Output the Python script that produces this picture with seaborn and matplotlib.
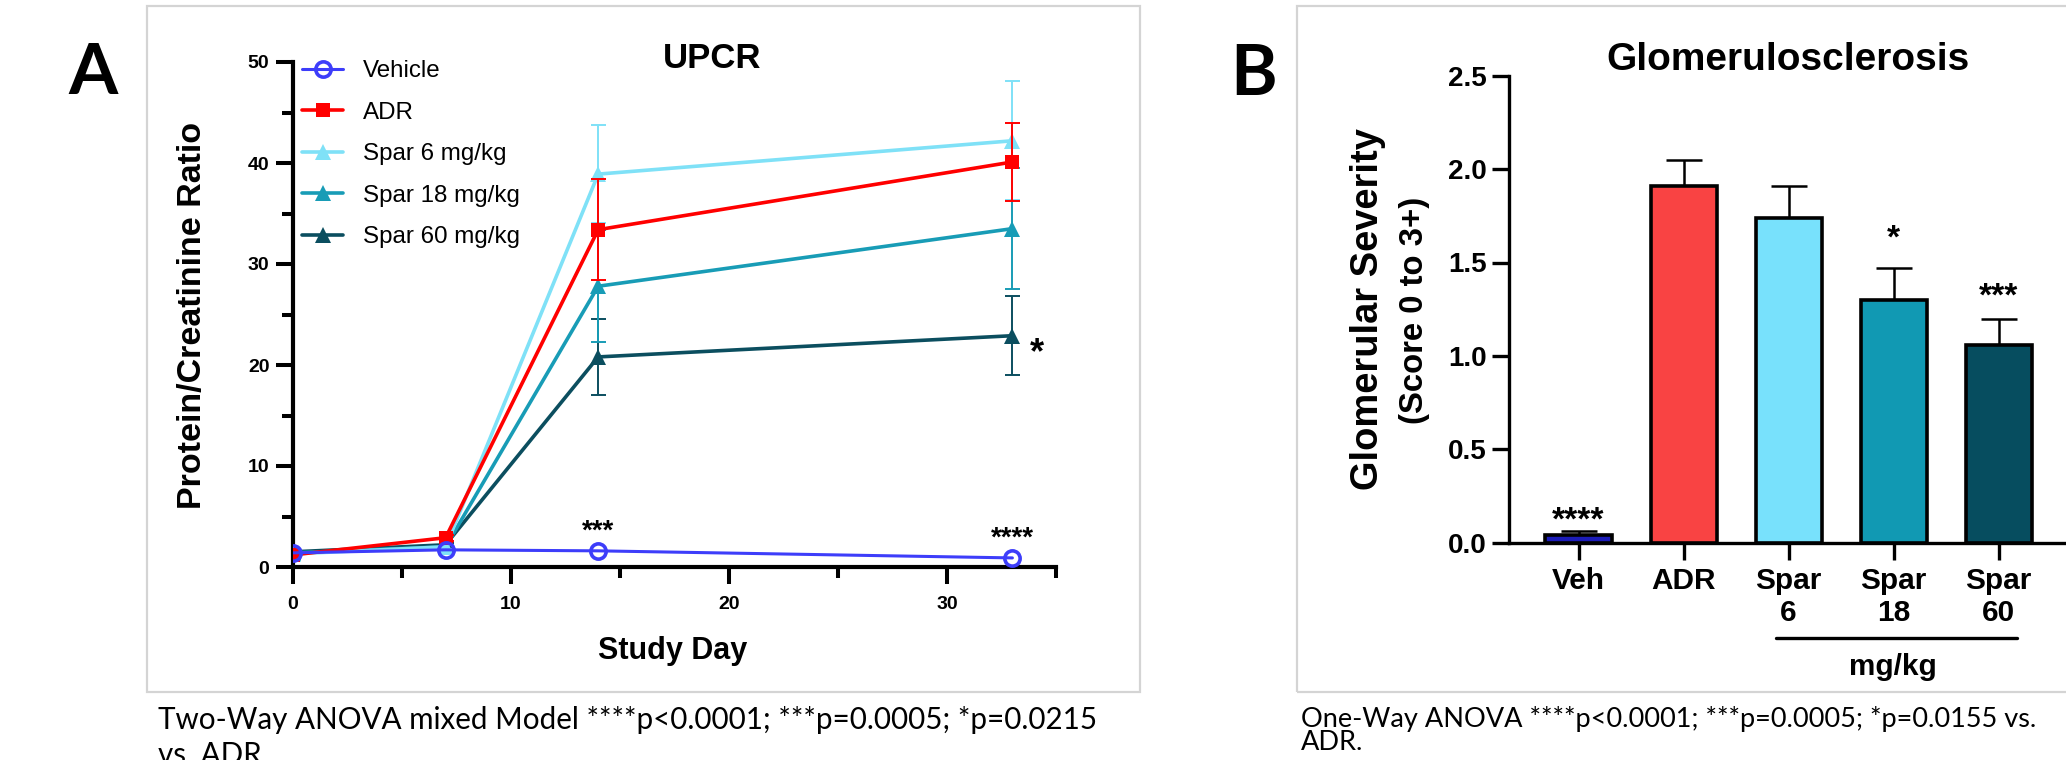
import matplotlib
matplotlib.use("Agg")
import matplotlib.pyplot as plt
import seaborn as sns
import numpy as np
import pandas as pd
from matplotlib.lines import Line2D
from matplotlib.patches import Rectangle

# ---------------- data ----------------
days = [0, 7, 14, 33]
series_names = ["Vehicle", "ADR", "Spar 6 mg/kg", "Spar 18 mg/kg", "Spar 60 mg/kg"]
vehicle = [1.4, 1.7, 1.6, 0.9]
vehicle_err = [0.0, 0.0, 0.0, 0.0]
adr = [1.2, 2.9, 33.4, 40.1]
adr_err = [0.2, 0.3, 5.0, 3.85]
spar6 = [1.3, 2.0, 38.9, 42.2]
spar6_err = [0.1, 0.2, 4.85, 5.9]
spar18 = [1.4, 2.0, 27.8, 33.5]
spar18_err = [0.1, 0.2, 5.55, 6.0]
spar60 = [1.5, 2.2, 20.8, 22.9]
spar60_err = [0.1, 0.2, 3.8, 3.9]

groups = ["Veh", "ADR", "Spar 6", "Spar 18", "Spar 60"]
group_ticklabels = ["Veh", "ADR", "Spar\n6", "Spar\n18", "Spar\n60"]
severity = [0.04, 1.91, 1.74, 1.30, 1.06]
severity_err = [0.02, 0.14, 0.17, 0.17, 0.14]

upcr_stars = [(14, 2.8, "***"), (33, 2.1, "****")]
spar60_star = (33.8, 20.2, "*")
bar_stars = ["****", "", "", "*", "***"]
bar_star_y = [0.068, None, None, 1.578, 1.267]

caption_a = "Two-Way ANOVA mixed Model ****p<0.0001; ***p=0.0005; *p=0.0215"
caption_a2 = "vs. ADR"
caption_b = "One-Way ANOVA ****p<0.0001; ***p=0.0005; *p=0.0155 vs."
caption_b2 = "ADR."

# ---------------- styling ----------------
sns.set_theme(style="white")
plt.rcParams["font.family"] = ["Liberation Sans", "DejaVu Sans"]
plt.rcParams["text.color"] = "black"
plt.rcParams["axes.labelcolor"] = "black"
plt.rcParams["xtick.color"] = "black"
plt.rcParams["ytick.color"] = "black"

W, H = 2066, 760
fig = plt.figure(figsize=(W / 100, H / 100), dpi=100)
fig.patch.set_facecolor("white")


def fx(px):
    return px / W


def fy(py):
    return 1 - py / H


# panel frames
fig.add_artist(Rectangle((fx(147), fy(692)), fx(1140) - fx(147), fy(6) - fy(692),
                         transform=fig.transFigure, fill=False, edgecolor="#d4d4d4", lw=1.6))
fig.add_artist(Rectangle((fx(1297), fy(692)), fx(2080) - fx(1297), fy(6) - fy(692),
                         transform=fig.transFigure, fill=False, edgecolor="#d4d4d4", lw=1.6))

# ---------------- Panel A ----------------
axA = fig.add_axes([fx(293), fy(567), fx(1056) - fx(293), fy(62) - fy(567)])
axA.set_facecolor("none")

colors_a = ["#3d3dfa", "#ff0000", "#7fe1f7", "#189cb6", "#0b4e5f"]
vals = [vehicle, adr, spar6, spar18, spar60]
errs = [vehicle_err, adr_err, spar6_err, spar18_err, spar60_err]
markers = ["o", "s", "^", "^", "^"]
msizes = [11, 10.5, 11, 11, 11]
zorders = [7, 6, 5, 4, 3]
handles = []
for name, v, e, c, m, ms, z in zip(series_names, vals, errs, colors_a, markers, msizes, zorders):
    df = pd.DataFrame({"day": days, "val": v})
    mfc = "none" if m == "o" else c
    mew = 2.6 if m == "o" else 0
    lw = 2.2 if m == "o" else 2.6
    if any(x > 0 for x in e):
        axA.errorbar(days, v, yerr=e, fmt="none", ecolor=c, elinewidth=1.4,
                     capsize=5.4, capthick=1.4, zorder=z)
    sns.lineplot(data=df, x="day", y="val", ax=axA, color=c, lw=lw, marker=m,
                 markersize=ms, markerfacecolor=mfc, markeredgecolor=c,
                 markeredgewidth=mew, zorder=z + 0.5, errorbar=None)
    handles.append(Line2D([0], [0], color=c, lw=lw, marker=m, markersize=ms,
                          markerfacecolor=mfc, markeredgecolor=c, markeredgewidth=mew))

axA.set_xlim(0, 35)
axA.set_ylim(0, 50)
axA.set_xticks([0, 10, 20, 30])
axA.set_xticks([5, 15, 25, 35], minor=True)
axA.set_yticks([0, 10, 20, 30, 40, 50])
axA.set_yticks([5, 15, 25, 35, 45], minor=True)
for s in ["top", "right"]:
    axA.spines[s].set_visible(False)
for s in ["left", "bottom"]:
    axA.spines[s].set_linewidth(3.0)
    axA.spines[s].set_color("black")
axA.tick_params(axis="both", which="major", length=12, width=2.9, color="black",
                direction="out", labelsize=14)
axA.tick_params(axis="both", which="minor", length=8, width=2.9, color="black",
                direction="out")
axA.tick_params(axis="x", which="major", pad=9)
axA.tick_params(axis="y", which="major", pad=5)
axA.tick_params(bottom=True, left=True)
axA.tick_params(axis="both", which="minor", bottom=True, left=True)
for lab in axA.get_xticklabels() + axA.get_yticklabels():
    lab.set_fontweight("bold")
axA.set_xlabel("")
axA.set_ylabel("")

for x, y, s in upcr_stars:
    axA.text(x, y, s, ha="center", va="baseline", fontsize=20, fontweight="bold", zorder=10)
axA.text(spar60_star[0], spar60_star[1], spar60_star[2], ha="left", va="baseline",
         fontsize=26, fontweight="bold")

fig.legend(handles, series_names, loc="upper left",
           bbox_to_anchor=(fx(302), fy(60)), bbox_transform=fig.transFigure,
           frameon=False, fontsize=17.4, handlelength=1.7, handletextpad=0.83,
           labelspacing=0.81, borderpad=0, borderaxespad=0)

fig.text(fx(712), fy(68), "UPCR", ha="center", va="baseline", fontsize=25, fontweight="bold")
fig.text(fx(673), fy(659), "Study Day", ha="center", va="baseline", fontsize=22, fontweight="bold")
fig.text(fx(193), fy(315), "Protein/Creatinine Ratio", ha="center", va="center",
         rotation=90, fontsize=24.5, fontweight="bold")
fig.text(fx(68), fy(94.5), "A", ha="left", va="baseline", fontsize=51, fontweight="bold",
         family=["Lato", "DejaVu Sans"])

# ---------------- Panel B ----------------
axB = fig.add_axes([fx(1509), fy(542.7), fx(2066) - fx(1509), fy(75.7) - fy(542.7)])
axB.set_facecolor("none")
colors_b = ["#1c1cb8", "#f94343", "#78e1fc", "#1199b3", "#064d5f"]
dfb = pd.DataFrame({"group": groups, "severity": severity})
sns.barplot(data=dfb, x="group", y="severity", hue="group", palette=colors_b,
            saturation=1, legend=False, width=0.63, edgecolor="black", linewidth=2.6,
            errorbar=None, ax=axB, zorder=3)
axB.errorbar(np.arange(len(groups)), severity,
             yerr=[np.zeros(len(groups)), severity_err], fmt="none", ecolor="black",
             elinewidth=1.8, capsize=13.3, capthick=1.8, zorder=2)
axB.set_xlim(-0.662, 4.64)
axB.set_ylim(0, 2.5)
axB.set_yticks([0, 0.5, 1.0, 1.5, 2.0, 2.5])
axB.set_yticklabels(["0.0", "0.5", "1.0", "1.5", "2.0", "2.5"])
axB.set_xticks(range(len(groups)))
axB.set_xticklabels(group_ticklabels, multialignment="center")
for s in ["top", "right"]:
    axB.spines[s].set_visible(False)
for s in ["left", "bottom"]:
    axB.spines[s].set_linewidth(2.4)
    axB.spines[s].set_color("black")
axB.tick_params(axis="both", which="major", length=12.5, width=2.4, color="black",
                direction="out", bottom=True, left=True)
axB.tick_params(axis="y", labelsize=20, pad=3.5)
axB.tick_params(axis="x", labelsize=21.4, pad=5)
for lab in axB.get_xticklabels() + axB.get_yticklabels():
    lab.set_fontweight("bold")
axB.set_xlabel("")
axB.set_ylabel("")

for i, (s, y) in enumerate(zip(bar_stars, bar_star_y)):
    if s:
        axB.text(i, y, s, ha="center", va="baseline", fontsize=24, fontweight="bold")

fig.add_artist(Line2D([fx(1776), fx(2017)], [fy(637.7), fy(637.7)], color="black",
                      lw=2.4, transform=fig.transFigure, solid_capstyle="round"))
fig.text(fx(1893), fy(667), "mg/kg", ha="center", va="center", fontsize=21.4, fontweight="bold")
fig.text(fx(1788), fy(70.3), "Glomerulosclerosis", ha="center", va="baseline",
         fontsize=28, fontweight="bold")
fig.text(fx(1368), fy(309), "Glomerular Severity", ha="center", va="center",
         rotation=90, fontsize=27.4, fontweight="bold")
fig.text(fx(1415), fy(310), "(Score 0 to 3+)", ha="center", va="center",
         rotation=90, fontsize=23.7, fontweight="bold")
fig.text(fx(1230), fy(95), "B", ha="left", va="baseline", fontsize=51, fontweight="bold",
         family=["Lato", "DejaVu Sans"])

# captions, sized to fit their measured widths
cap_font = ["Lato", "DejaVu Sans"]
tA = fig.text(fx(158), fy(729.5), caption_a, ha="left", va="baseline", fontsize=20,
              family=cap_font)
tA2 = fig.text(fx(158), fy(764), caption_a2, ha="left", va="baseline", fontsize=20,
               family=cap_font)
tB = fig.text(fx(1301), fy(727), caption_b, ha="left", va="baseline", fontsize=18,
              family=cap_font)
tB2 = fig.text(fx(1301), fy(750), caption_b2, ha="left", va="baseline", fontsize=18,
               family=cap_font)
fig.canvas.draw()
r = fig.canvas.get_renderer()
wa = tA.get_window_extent(r).width
fa = 20 * (1097 - 158) / wa
tA.set_fontsize(fa)
tA2.set_fontsize(fa)
wb = tB.get_window_extent(r).width
fb = 18 * (2037 - 1301) / wb
tB.set_fontsize(fb)
tB2.set_fontsize(fb)

fig.savefig("out.png", dpi=100, facecolor="white")
